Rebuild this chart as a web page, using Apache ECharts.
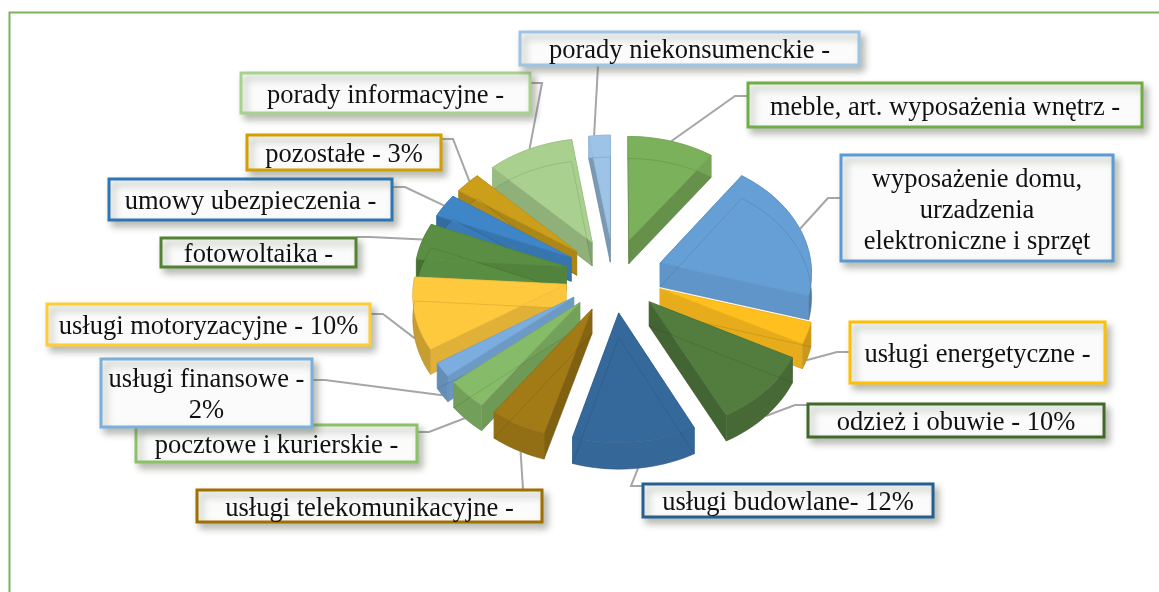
<!DOCTYPE html>
<html><head><meta charset="utf-8">
<script src="https://cdn.jsdelivr.net/npm/echarts@6/dist/echarts.min.js"></script>
<style>html,body{margin:0;padding:0;background:#fff}#c{width:1159px;height:592px}</style>
</head><body><div id="c"></div>
<script>
// ---- data (clockwise from 12 o'clock), shares in %
const categories = ['meble','wyposażenie domu','usługi energetyczne','odzież i obuwie','usługi budowlane','usługi telekomunikacyjne','pocztowe i kurierskie','usługi finansowe','usługi motoryzacyjne','fotowoltaika','umowy ubezpieczenia','pozostałe','porady informacyjne','porady niekonsumenckie'];
const shares = [10,19.5,3,10,12,5.5,4,2,10,5.2,3.3,3,10,2.5];
const labelTexts = ['meble, art. wyposażenia wnętrz -','wyposażenie domu,\nurzadzenia\nelektroniczne i sprzęt','usługi energetyczne -','odzież i obuwie - 10%','usługi budowlane- 12%','usługi telekomunikacyjne -','pocztowe i kurierskie -','usługi finansowe -\n2%','usługi motoryzacyjne - 10%','fotowoltaika -','umowy ubezpieczenia -','pozostałe - 3%','porady informacyjne -','porady niekonsumenckie -'];
// ---- styles
const topColors = ['#7CB15B','#659FD5','#FFBF1E','#537C3F','#36699B','#A27A16','#86BB69','#7BADDF','#FFC93E','#5A8F43','#3F86C8','#CC9F1B','#A9D08E','#9DC3E6'];
const borderColors = ['#70AD47','#5B9BD5','#FFC000','#43682B','#255E91','#9E7000','#8CC168','#7CAFDD','#FFCD33','#548235','#2E75B6','#D29E00','#A9D18E','#9DC3E6'];
// ---- label layout: [x1,y1,x2,y2]
const boxes = [[747,82,1143,128],[840,154,1114,262],[849,321,1106,384],[807,403,1105,438],[642,483,934,518],[196,489,543,523],[135,424,418,463],[100,358,313,428],[46,303,371,346],[160,237,357,268],[108,178,393,221],[246,134,442,171],[240,72,531,114],[519,31,860,66]];
// leader: [startX,startY,elbowX,elbowY,fraction along the slice's arc]
const leaders = [[747,96,735,96,.5],[840,198,828,198,.5],[849,352,837,352,.5],[807,405,795,405,.5],[642,486,631,486,.48],[523,489,523,489,.4],[418,432,429,432,.5],[313,380,325,380,.5],[371,314,383,314,.5],[357,237,370,237,.5],[393,187,405,187,.5],[442,139,453,139,.5],[531,83,542,83,.5],[598,66,598,66,.35]];
// ---- projection
const cx=614, cy=275, R=152, EXPLODE=49, K=0.76, P=0.00045, H=24;
const total = shares.reduce((a,b)=>a+b,0);
const starts=[]; shares.reduce((a,v,i)=>{starts[i]=a;return a+v*2*Math.PI/total;},0);
function spans(i){const a=starts[i], b=a+shares[i]*2*Math.PI/total; return [a,b,(a+b)/2];}
function proj(X,Y,dz){const s=1/(1-P*Y);return [cx+X*s, cy+K*Y*s+dz*s];}
function pt(m,r,t,dz){return proj(EXPLODE*Math.sin(m)+r*Math.sin(t), -(EXPLODE*Math.cos(m)+r*Math.cos(t)), dz);}
function arc(i,dz){const [a,b,m]=spans(i);const n=Math.max(4,Math.ceil((b-a)/0.04));const o=[];for(let j=0;j<=n;j++)o.push(pt(m,R,a+(b-a)*j/n,dz));return o;}
function shade(hex,f){const n=parseInt(hex.slice(1),16);const c=[n>>16,(n>>8)&255,n&255].map(v=>Math.round(v*f));return 'rgb('+c.join(',')+')';}
const order = shares.map((_,i)=>i).sort((p,q)=>Math.cos(spans(q)[2])-Math.cos(spans(p)[2]));
const rank = []; order.forEach((i,r)=>rank[i]=r);

function renderItem(params,api){
  const i=params.dataIndex, [a,b,m]=spans(i), col=topColors[i], z=100+rank[i]*10;
  const ch=[];
  const topArc=arc(i,0), botArc=arc(i,H), A0=pt(m,0,a,0), A1=pt(m,0,a,H);
  const poly=(pts,fill,zz)=>ch.push({type:'polygon',z2:zz,shape:{points:pts},style:{fill:fill,stroke:fill,lineWidth:0.5}});
  const wall=t=>1-0.22*Math.abs(Math.sin(t));
  // walls
  poly([A0,topArc[0],botArc[0],A1],shade(col,wall(a-Math.PI/2)),z);
  poly([A0,topArc[topArc.length-1],botArc[botArc.length-1],A1],shade(col,wall(b+Math.PI/2)),z+1);
  poly(topArc.concat(botArc.slice().reverse()),shade(col,wall(m)),z+2);
  // top face
  ch.push({type:'polygon',z2:z+3,shape:{points:[A0].concat(topArc)},style:{fill:col,stroke:shade(col,.93),lineWidth:.6}});
  // underside outline seen through the translucent top
  ch.push({type:'polygon',z2:z+4,shape:{points:[A1].concat(botArc)},style:{fill:'none',stroke:'rgba(0,0,0,0.10)',lineWidth:1}});
  // leader: ends under the slice, on the rim of the side that faces the viewer
  const L=leaders[i], rim=arc(i,Math.cos(m)<0.2?H:0), e=rim[Math.round((rim.length-1)*L[4])];
  ch.push({type:'polyline',z2:1,shape:{points:[[L[0],L[1]],[L[2],L[3]],e]},style:{fill:'none',stroke:'#A6A6A6',lineWidth:2}});
  // label box
  const B=boxes[i];
  ch.push({type:'rect',z2:1000+i*2,shape:{x:B[0]+1,y:B[1]+1,width:B[2]-B[0]-2,height:B[3]-B[1]-2},style:{fill:'#FAFBFA',stroke:borderColors[i],lineWidth:3,shadowBlur:7,shadowOffsetX:4,shadowOffsetY:5,shadowColor:'rgba(90,100,80,0.42)'}});
  ch.push({type:'text',z2:1001+i*2,style:{text:labelTexts[i],x:(B[0]+B[2])/2,y:(B[1]+B[3])/2+3,textAlign:'center',textVerticalAlign:'middle',fill:'#111',font:'26.5px "Liberation Serif"',lineHeight:31}});
  return {type:'group',children:ch};
}
const chart=echarts.init(document.getElementById('c'),null,{renderer:'canvas'});
chart.setOption({
  animation:false,
  backgroundColor:'#fff',
  graphic:[{type:'polyline',z:-1,silent:true,shape:{points:[[9.5,592],[9.5,12.5],[1159,12.5]]},style:{fill:'none',stroke:'#7FB05F',lineWidth:2}}],
  series:[{type:'custom',coordinateSystem:'none',silent:true,clip:false,renderItem:renderItem,
    data:categories.map((n,i)=>({name:n,value:[shares[i]]}))}]
});
</script></body></html>
